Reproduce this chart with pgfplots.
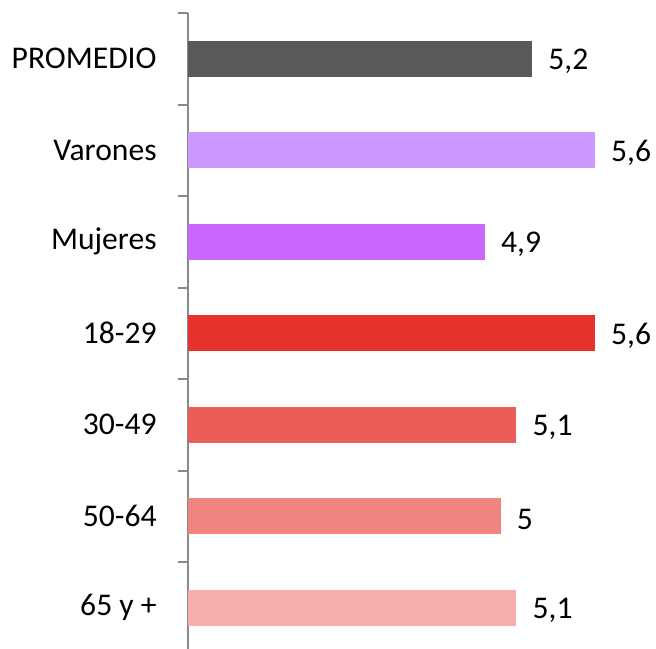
\documentclass[border=0pt]{standalone}
\usepackage{fontspec}
\setmainfont{Carlito}
\usepackage{pgfplots}
\pgfplotsset{compat=1.18}
\definecolor{axgray}{HTML}{898989}
\definecolor{cprom}{HTML}{595959}
\definecolor{cvar}{HTML}{CC99FF}
\definecolor{cmuj}{HTML}{CC66FF}
\definecolor{ca}{HTML}{E5322D}
\definecolor{cb}{HTML}{EA5D58}
\definecolor{cc}{HTML}{F08580}
\definecolor{cd}{HTML}{F4AEAB}
\newcommand\lbl{\fontsize{15.8}{19}\selectfont}

\begin{document}
\begin{tikzpicture}
\begin{axis}[
    name=ax,
    width=234pt, height=320.25pt, scale only axis,
    xbar, bar shift=0pt, bar width=18pt,
    xmin=3.01, xmax=5.99,
    ymin=-0.5, ymax=6.5, y dir=reverse,
    axis y line*=left, axis x line=none,
    ytick={0,...,6},
    yticklabels={PROMEDIO,Varones,Mujeres,18-29,30-49,50-64,65 y +},
    major tick length=0pt,
    minor ytick={-0.5,0.5,...,6.5},
    minor tick length=5pt,
    tick align=outside,
    axis line style={draw=axgray, line width=1pt},
    every minor tick/.style={draw=axgray, line width=1pt},
    yticklabel style={font=\lbl, anchor=east, inner sep=0pt, xshift=-15.5pt},
    point meta=x,
    nodes near coords,
    every node near coord/.append style={font=\lbl, anchor=west, inner sep=0pt, xshift=8pt, yshift=-1.5pt},
    /pgf/number format/use comma,
    /pgf/number format/fixed,
    /pgf/number format/precision=1,
    /pgf/number format/assume math mode=true,
]
\addplot[draw=none, fill=cprom] coordinates {(5.2,0)};
\addplot[draw=none, fill=cvar] coordinates {(5.6,1)};
\addplot[draw=none, fill=cmuj] coordinates {(4.9,2)};
\addplot[draw=none, fill=ca] coordinates {(5.6,3)};
\addplot[draw=none, fill=cb] coordinates {(5.1,4)};
\addplot[draw=none, fill=cc] coordinates {(5.0,5)};
\addplot[draw=none, fill=cd] coordinates {(5.1,6)};
\end{axis}
\pgfresetboundingbox
\path ([xshift=-94pt,yshift=2.25pt]ax.south west) rectangle ([yshift=6.5pt]ax.north east);
\end{tikzpicture}
\end{document}
